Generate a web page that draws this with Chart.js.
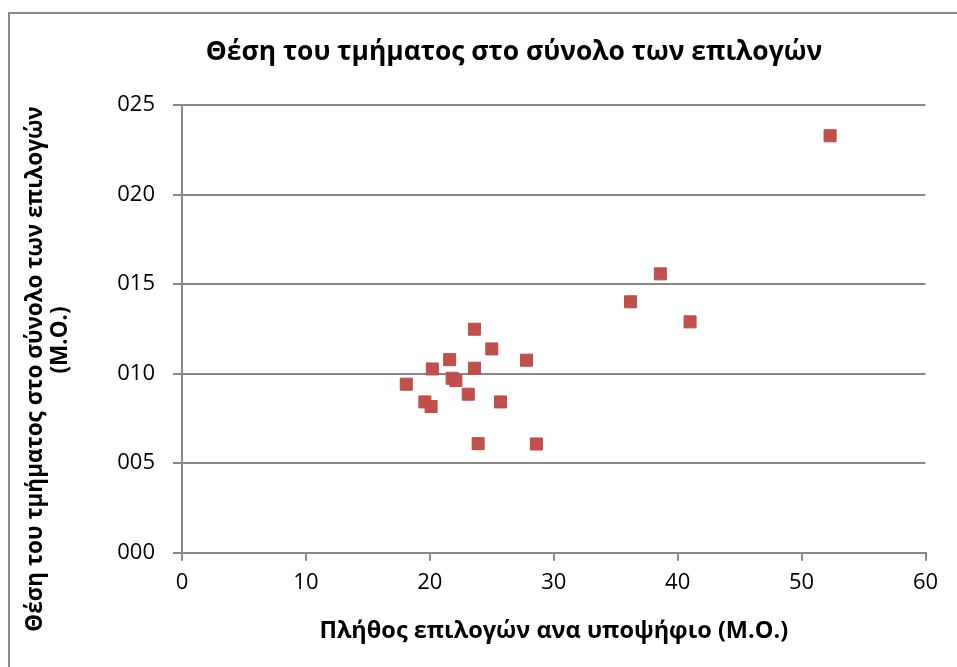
<!DOCTYPE html>
<html>
<head>
<meta charset="utf-8">
<script src="https://cdn.jsdelivr.net/npm/chart.js@4.4.0/dist/chart.umd.min.js"></script>
<style>
    html, body { margin: 0; padding: 0; background: #fff; }
</style>
</head>
<body>
<canvas id="rank-chart" width="957" height="667"></canvas>
<script>
const chartTitle = 'Θέση του τμήματος στο σύνολο των επιλογών';
const xAxisTitle = 'Πλήθος επιλογών ανα υποψήφιο (Μ.Ο.)';
const yAxisTitle = ['Θέση του τμήματος στο σύνολο των επιλογών', '(Μ.Ο.)'];

const xTickLabels = ['0', '10', '20', '30', '40', '50', '60'];
const yTickLabels = ['000', '005', '010', '015', '020', '025'];

// average number of choices per candidate / average position of the department
const choicesPerCandidate = [23.6, 25.0, 21.6, 27.8, 20.2, 23.6, 21.8, 22.1, 18.1, 23.1, 19.6, 25.7, 20.1, 23.9, 28.6, 52.3, 38.6, 36.2, 41.0];
const departmentRank     = [12.48, 11.38, 10.78, 10.75, 10.26, 10.30, 9.74, 9.61, 9.41, 8.85, 8.42, 8.42, 8.16, 6.09, 6.07, 23.28, 15.57, 14.01, 12.89];

const FONT = "'Open Sans', 'DejaVu Sans', sans-serif";
const GRID = '#878787';

// outer frame + y axis title placed the way the original sheet had it
const framePlugin = {
    id: 'frame',
    beforeDraw(chart) {
        const ctx = chart.ctx;
        ctx.save();
        ctx.fillStyle = '#fff';
        ctx.fillRect(0, 0, chart.width, chart.height);
        ctx.strokeStyle = '#8a8a8a';
        ctx.lineWidth = 2;
        ctx.strokeRect(9, 13, 1000, 1000);
        ctx.restore();
    },
    afterDraw(chart) {
        const ctx = chart.ctx;
        const spots = [[36, 369], [61, 340]];
        yAxisTitle.forEach((line, i) => {
            ctx.save();
            ctx.fillStyle = '#000';
            ctx.font = 'bold 22.5px ' + FONT;
            ctx.textAlign = 'center';
            ctx.textBaseline = 'middle';
            ctx.translate(spots[i][0], spots[i][1]);
            ctx.rotate(-Math.PI / 2);
            ctx.fillText(line, 0, 0);
            ctx.restore();
        });
    }
};

const ctx = document.getElementById('rank-chart').getContext('2d');
const rankChart = new Chart(ctx, {
    type: 'scatter',
    data: {
        datasets: [{
            label: 'Θέση',
            data: choicesPerCandidate.map((x, i) => ({ x: x, y: departmentRank[i] })),
            pointStyle: 'rect',
            pointRadius: 8.5,
            pointHoverRadius: 8.5,
            backgroundColor: '#c0504d',
            borderColor: '#be4b48',
            borderWidth: 1
        }]
    },
    options: {
        responsive: false,
        animation: false,
        layout: { padding: { left: 102.5, top: 0, right: 31.5, bottom: 0 } },
        plugins: {
            legend: { display: false },
            tooltip: { enabled: false },
            title: {
                display: true,
                text: chartTitle,
                color: '#000',
                font: { family: FONT, size: 26.4, weight: 'bold', lineHeight: 1.2 },
                padding: { top: 36.2, bottom: 37.1 }
            }
        },
        scales: {
            x: {
                type: 'linear',
                min: 0,
                max: 60,
                ticks: {
                    stepSize: 10,
                    color: '#000',
                    padding: 9,
                    font: { family: FONT, size: 22 },
                    callback: (v, i) => xTickLabels[i]
                },
                grid: { drawOnChartArea: false, color: GRID, lineWidth: 2, tickLength: 8 },
                border: { color: GRID, width: 2 },
                title: {
                    display: true,
                    text: xAxisTitle,
                    color: '#000',
                    font: { family: FONT, size: 23.5, weight: 'bold', lineHeight: 1.2 },
                    padding: { top: 0, bottom: 21.9 }
                },
                afterFit(scale) { scale.height = 114.3; }
            },
            y: {
                type: 'linear',
                min: 0,
                max: 25,
                ticks: {
                    stepSize: 5,
                    color: '#000',
                    padding: 18,
                    font: { family: FONT, size: 22 },
                    callback: (v, i) => yTickLabels[i]
                },
                grid: { color: GRID, lineWidth: 2, tickLength: 9 },
                border: { color: GRID, width: 2 },
                afterFit(scale) { scale.width = 79.5; }
            }
        }
    },
    plugins: [framePlugin]
});
</script>
</body>
</html>
